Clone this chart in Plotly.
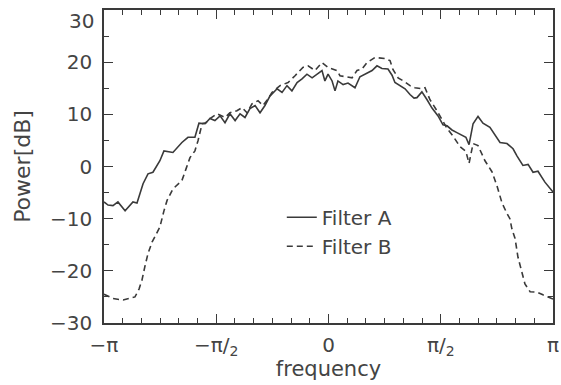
import numpy as np
import plotly.graph_objects as go

# frequency in multiples of pi
freq_a = [-1.0, -0.982, -0.960, -0.938, -0.906, -0.871, -0.853, -0.826, -0.804, -0.782,
          -0.751, -0.733, -0.693, -0.653, -0.626, -0.595, -0.577, -0.550, -0.528, -0.506,
          -0.483, -0.461, -0.439, -0.416, -0.394, -0.372, -0.350, -0.327, -0.305, -0.283,
          -0.261, -0.229, -0.207, -0.185, -0.163, -0.140, -0.118, -0.096, -0.073, -0.051,
          -0.029, -0.016, -0.002, 0.016, 0.029, 0.042, 0.065, 0.087, 0.118, 0.140,
          0.171, 0.194, 0.216, 0.238, 0.265, 0.283, 0.296, 0.318, 0.341, 0.363,
          0.381, 0.394, 0.416, 0.439, 0.461, 0.488, 0.510, 0.528, 0.550, 0.572,
          0.595, 0.612, 0.626, 0.644, 0.666, 0.688, 0.719, 0.742, 0.764, 0.795,
          0.822, 0.840, 0.866, 0.889, 0.911, 0.933, 0.964, 1.0]
power_a = [-6.8, -7.4, -7.5, -6.8, -8.5, -6.8, -7.0, -3.3, -1.4, -1.1,
           1.1, 3.0, 2.7, 4.6, 5.6, 5.6, 8.3, 8.2, 9.2, 8.8,
           9.7, 8.4, 10.1, 8.8, 10.1, 9.4, 11.1, 11.7, 10.3, 11.7,
           13.5, 14.9, 14.2, 15.5, 14.5, 16.1, 16.8, 17.7, 17.0, 17.7,
           18.4, 16.4, 17.7, 16.4, 14.5, 16.4, 15.7, 16.0, 15.1, 17.2,
           17.8, 18.4, 19.3, 18.8, 18.7, 17.5, 16.1, 15.5, 14.9, 13.8,
           13.1, 13.2, 14.3, 12.8, 11.2, 9.7, 8.0, 7.8, 7.0, 6.5,
           5.9, 5.6, 4.2, 8.2, 9.6, 8.3, 7.5, 6.0, 4.6, 4.4,
           3.4, 2.0, 0.2, 0.4, -1.1, -0.9, -3.0, -4.9]

freq_b = [-1.0, -0.982, -0.960, -0.915, -0.862, -0.844, -0.831, -0.817, -0.804, -0.786,
          -0.773, -0.751, -0.733, -0.719, -0.693, -0.653, -0.635, -0.617, -0.595, -0.581,
          -0.563, -0.546, -0.528, -0.497, -0.461, -0.439, -0.408, -0.385, -0.363, -0.341,
          -0.314, -0.292, -0.269, -0.252, -0.216, -0.180, -0.149, -0.114, -0.091, -0.060,
          -0.029, -0.002, 0.038, 0.051, 0.078, 0.105, 0.127, 0.149, 0.171, 0.207,
          0.252, 0.274, 0.287, 0.310, 0.341, 0.363, 0.385, 0.416, 0.430, 0.452,
          0.483, 0.506, 0.528, 0.555, 0.586, 0.612, 0.626, 0.644, 0.666, 0.697,
          0.728, 0.751, 0.773, 0.795, 0.808, 0.817, 0.831, 0.844, 0.862, 0.875,
          0.898, 0.929, 0.955, 0.978, 1.0]
power_b = [-24.5, -24.8, -25.3, -25.6, -25.0, -23.5, -21.8, -19.0, -16.7, -14.5,
           -13.5, -11.6, -8.5, -6.5, -4.3, -2.7, -0.5, 1.7, 3.0, 5.0,
           8.2, 8.4, 9.2, 10.1, 9.4, 10.3, 10.7, 11.3, 10.3, 12.0,
           12.6, 11.7, 13.0, 14.2, 15.5, 16.1, 17.4, 19.0, 19.3, 18.4,
           19.9, 19.0, 18.4, 17.4, 17.2, 17.0, 18.4, 18.7, 19.9, 20.9,
           20.7, 20.3, 18.6, 17.0, 16.2, 15.5, 15.1, 14.9, 15.1, 12.8,
           10.7, 9.0, 7.3, 5.8, 3.8, 2.9, 0.6, 4.4, 4.0, 1.1,
           -1.0, -3.8, -7.0, -9.0, -10.0, -12.0, -13.8, -17.4, -20.5, -22.5,
           -24.0, -24.1, -24.6, -25.0, -25.4]

x_tick_vals = [-np.pi, -np.pi / 2, 0, np.pi / 2, np.pi]
x_tick_text = ["\u2212\u03c0", "\u2212\u03c0/<sub>2</sub>", "0", "\u03c0/<sub>2</sub>", "\u03c0"]
y_tick_vals = [-30, -20, -10, 0, 10, 20]
y_tick_text = ["\u221230", "\u221220", "\u221210", "0", "10", "20"]
y_top_value = 30
y_top_label = "30"

ink = "#3a3a3a"
txt = "#444444"
eps = 1e-6
fig = go.Figure()
fig.add_trace(go.Scatter(x=np.array(freq_a) * np.pi, y=power_a, mode="lines", name="Filter A",
                         line=dict(color=ink, width=1.6)))
fig.add_trace(go.Scatter(x=np.array(freq_b) * np.pi, y=power_b, mode="lines", name="Filter B",
                         line=dict(color=ink, width=1.6, dash="6px,4px")))

axis_common = dict(showgrid=False, zeroline=False, showline=True, linecolor=ink, linewidth=1.5,
                   mirror="ticks", ticks="inside", ticklen=9, tickwidth=1.2, tickcolor=ink,
                   tickfont=dict(size=20, color=txt), automargin=False,
                   ticklabeloverflow="allow")
fig.update_xaxes(range=[-np.pi - eps, np.pi + eps], tickvals=x_tick_vals, ticktext=x_tick_text,
                 minor=dict(dtick=np.pi / 12, ticks="inside", ticklen=5, tickcolor=ink, tickwidth=1),
                 ticklabelstandoff=3,
                 title=dict(text="frequency", font=dict(size=21, color=txt), standoff=0),
                 **axis_common)
fig.update_yaxes(range=[-30, 30], tickvals=y_tick_vals, ticktext=y_tick_text,
                 minor=dict(dtick=5, ticks="inside", ticklen=5, tickcolor=ink, tickwidth=1),
                 ticklabelstandoff=6,
                 title=dict(text="Power[dB]", font=dict(size=22, color=txt), standoff=13),
                 **axis_common)
# top tick label, nudged down inside the page as in the original
fig.add_annotation(x=0, xref="paper", y=y_top_value, yref="y", text=y_top_label,
                   showarrow=False, xanchor="right", yanchor="middle", xshift=-8, yshift=-11,
                   font=dict(size=20, color=txt))
fig.update_layout(width=561, height=385, margin=dict(l=104, r=8, t=10, b=62),
                  plot_bgcolor="white", paper_bgcolor="white",
                  font=dict(family="DejaVu Sans, sans-serif", color=txt),
                  showlegend=True,
                  legend=dict(x=0.396, y=0.40, xanchor="left", yanchor="top",
                              bgcolor="rgba(0,0,0,0)", font=dict(size=20, color=txt),
                              tracegroupgap=0, itemwidth=30))
fig.write_html("out.html", config={"displayModeBar": False},
               post_script="document.body.style.margin='0';")
